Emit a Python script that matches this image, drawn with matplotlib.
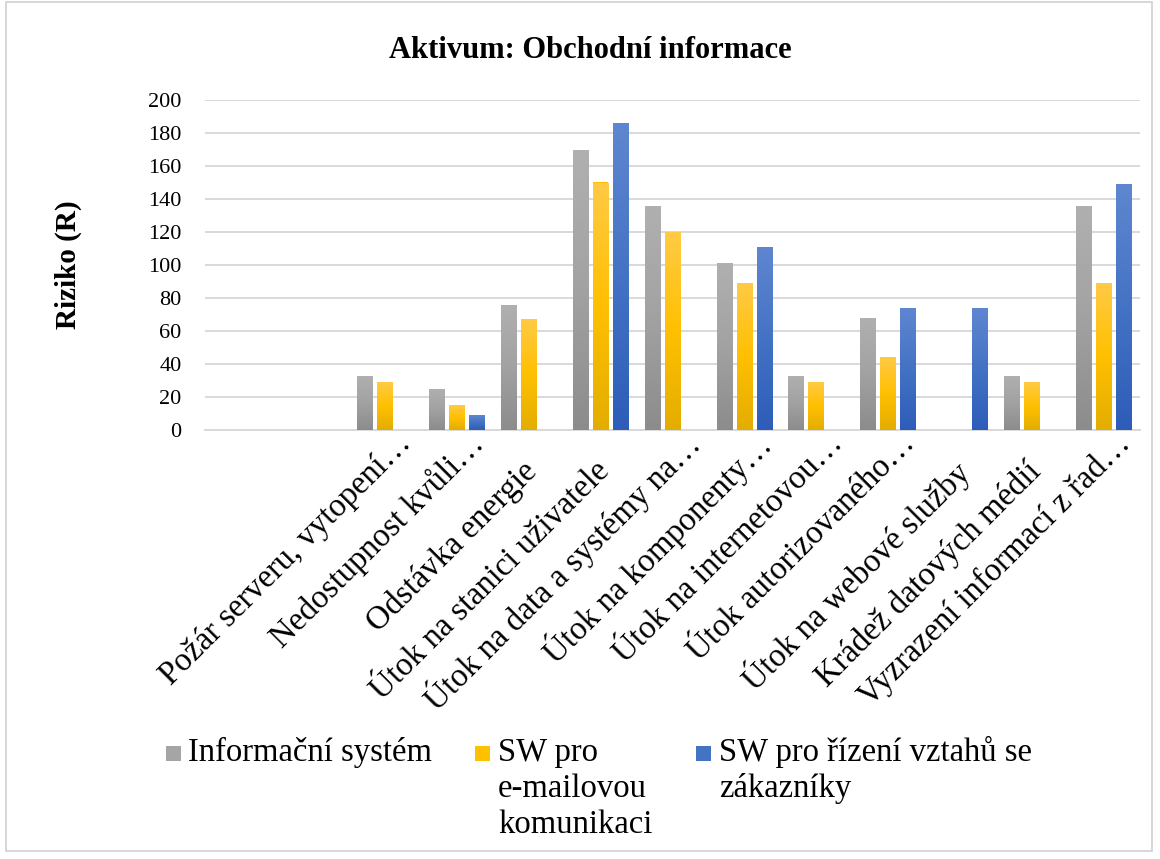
"""
Grouped bar chart: Aktivum: Obchodní informace (risk per threat and asset).
"""

import matplotlib
matplotlib.use("Agg")
import matplotlib.pyplot as plt
import numpy as np
from matplotlib.colors import LinearSegmentedColormap
from matplotlib.patches import Rectangle
from matplotlib.transforms import ScaledTranslation

# ── Data ───────────────────────────────────────────────────────────────────────
categories = [
    "",
    "",
    "Požár serveru, vytopení…",
    "Nedostupnost kvůli…",
    "Odstávka energie",
    "Útok na stanici uživatele",
    "Útok na data a systémy na…",
    "Útok na komponenty…",
    "Útok na internetovou…",
    "Útok autorizovaného…",
    "Útok na webové služby",
    "Krádež datových médií",
    "Vyzrazení informací z řad…",
]
nan = np.nan
info_system = [nan, nan, 33, 25, 76, 170, 136, 101, 33, 68, 0, 33, 136]
email_sw = [nan, nan, 29, 15, 67, 150, 120, 89, 29, 44, 0, 29, 89]
crm_sw = [nan, nan, 0, 9, 0, 186, 0, 111, 0, 74, 74, 0, 149]

series_labels = [
    "Informační systém",
    "SW pro\ne-mailovou\nkomunikaci",
    "SW pro řízení vztahů se\nzákazníky",
]
y_ticks = list(range(0, 201, 20))

TITLE = "Aktivum: Obchodní informace"
YLABEL = "Riziko (R)"

# ── Style ──────────────────────────────────────────────────────────────────────
plt.rcParams["font.family"] = ["Liberation Serif", "DejaVu Serif"]
GRID = "#d9d9d9"
# (top, mid, bottom) gradient colours per series
GRADS = [
    ("#b0b0b0", "#a2a2a2", "#8c8c8c"),
    ("#ffca45", "#ffc000", "#e3ad00"),
    ("#5f87d0", "#4472c4", "#2d5db8"),
]
SOLID = ["#a5a5a5", "#ffc000", "#4472c4"]

W, H = 1160, 859
fig = plt.figure(figsize=(W / 100, H / 100), dpi=100)
fig.patch.set_facecolor("white")

# chart-area border
fig.patches.append(Rectangle((6 / W, 8 / H), 1146 / W, 849 / H, transform=fig.transFigure,
                             fill=False, edgecolor="#d0d0d0", linewidth=1.2))

ax = fig.add_axes([205 / W, 1 - 430 / H, 935 / W, 330 / H])

x = np.arange(len(categories))
offsets = [-0.278, 0.0, 0.278]
bar_w = 0.22
series = [info_system, email_sw, crm_sw]

for vals, off, solid, grad in zip(series, offsets, SOLID, GRADS):
    bars = ax.bar(x + off, vals, width=bar_w, color=solid, linewidth=0, zorder=3)
    cmap = LinearSegmentedColormap.from_list("g", [grad[2], grad[1], grad[0]])
    g = np.linspace(0, 1, 128).reshape(-1, 1)
    for b in bars:
        h = b.get_height()
        if not np.isfinite(h) or h <= 0:
            continue
        bx, bw = b.get_x(), b.get_width()
        im = ax.imshow(g, cmap=cmap, extent=(bx, bx + bw, 0, h), origin="lower",
                       aspect="auto", zorder=3.5, interpolation="bilinear")
        im.set_clip_path(b)

ax.set_xlim(-0.5, len(categories) - 0.5)
ax.set_ylim(0, 200)
ax.set_yticks(y_ticks)
ax.yaxis.grid(True, color=GRID, linewidth=1.4, zorder=0)
ax.set_axisbelow(True)
for s in ["left", "right", "top"]:
    ax.spines[s].set_visible(False)
ax.spines["bottom"].set_color(GRID)
ax.spines["bottom"].set_linewidth(1.4)
ax.tick_params(axis="both", length=0)
ax.tick_params(axis="y", pad=17, labelsize=16)

ax.set_xticks(x)
ax.set_xticklabels(categories, rotation=45, ha="right", va="center",
                   rotation_mode="anchor", fontsize=23.5)
# truncated labels: the ellipsis hangs past the anchor point
for lab, name in zip(ax.get_xticklabels(), categories):
    dx, dy = 0.04, -0.32
    if name.endswith("…"):
        dx, dy = dx + 0.18, dy + 0.28
    lab.set_transform(lab.get_transform() + ScaledTranslation(dx, dy, fig.dpi_scale_trans))

# ── Titles ─────────────────────────────────────────────────────────────────────
fig.text(590 / W, 1 - 50 / H, TITLE, ha="center", va="center", fontsize=22,
         fontweight="bold")
fig.text(68 / W, 1 - 265 / H, YLABEL, ha="center", va="center", rotation=90,
         fontsize=21, fontweight="bold")

# ── Legend (markers aligned with first text line, Excel-style wrapping) ────────
leg_marker_x = [166, 475, 696]
leg_text_x = [188, 498, 719]
base_y, line_step = 761, 36
for mx, tx, label, solid in zip(leg_marker_x, leg_text_x, series_labels, SOLID):
    fig.patches.append(Rectangle((mx / W, 1 - base_y / H), 15 / W, 15 / H,
                                 transform=fig.transFigure, facecolor=solid, linewidth=0))
    for i, line in enumerate(label.split("\n")):
        fig.text(tx / W, 1 - (base_y + i * line_step) / H, line, ha="left",
                 va="baseline", fontsize=23.5)

fig.savefig("out.png", dpi=100, facecolor="white")
plt.close(fig)
